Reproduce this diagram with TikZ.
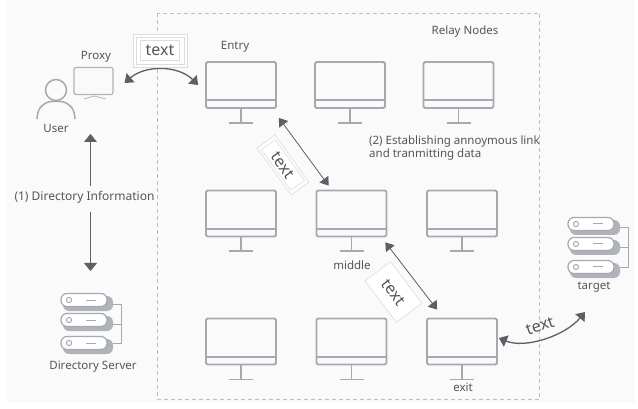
\documentclass[tikz,border=0pt]{standalone}
\usepackage{fontspec}
\setmainfont{Noto Sans}
\usetikzlibrary{arrows.meta}
\definecolor{bgc}{HTML}{FAFAFB}
\definecolor{iconc}{HTML}{A6A9B0}
\definecolor{icondk}{HTML}{B0B3B9}
\definecolor{dashc}{HTML}{BDBEC1}
\definecolor{arrowc}{HTML}{5E5F64}
\definecolor{txtc}{HTML}{55565A}
\definecolor{framec}{HTML}{DCDCDE}
\tikzset{
  monbox/.style={draw=iconc,line width=1.8pt,rounded corners=1.5pt,minimum width=70pt,minimum height=46pt,inner sep=0pt},
  monpart/.style={draw=iconc,line width=1.8pt},
  lbl/.style={text=txtc,font=\fontsize{11.5}{13}\selectfont,inner sep=0pt},
  bigtext/.style={text=txtc,font=\fontsize{16}{20}\selectfont,inner sep=0pt},
  link/.style={draw=arrowc,line width=.8pt,{Triangle[length=8pt,width=11pt]}-{Triangle[length=8pt,width=11pt]}},
  curved link/.style={draw=arrowc,line width=1.3pt,{Triangle[length=8pt,width=12pt]}-{Triangle[length=8pt,width=12pt]}},
  single link/.style={draw=arrowc,line width=.8pt,-{Triangle[length=8pt,width=13pt]}},
  framebox/.style={draw=framec,line width=.6pt,inner sep=0pt},
  pill/.style={draw=iconc,fill=white,line width=1.2pt,rounded corners=6pt,minimum width=46pt,minimum height=13pt,inner sep=0pt},
}
\newcommand{\monitor}[3]{%
  \node[monbox] (#1) at (#2,#3) {};
  \draw[monpart] ([yshift=8.5pt]#1.south west) -- ([yshift=8.5pt]#1.south east);
  \draw[monpart] (#1.south) -- ++(0,14) ([xshift=-12pt,yshift=-14pt]#1.south) -- ([xshift=12pt,yshift=-14pt]#1.south);
}
\newcommand{\serverpill}[3]{%
  \fill[icondk,rounded corners=6pt] (#2-21,#3-4) rectangle (#2+29,#3+11);
  \node[pill] (#1) at (#2,#3) {};
  \draw[iconc,line width=1pt] (#2-15,#3) circle (2.6);
  \draw[iconc,line width=1pt] (#2+2,#3) -- (#2+12,#3);
}
\newcommand{\serverstack}[3]{%
  \serverpill{#1a}{#2}{#3}
  \serverpill{#1b}{#2}{#3+20}
  \serverpill{#1c}{#2}{#3+43}
  \draw[iconc,line width=1pt] (#2+29,#3+4) -| (#2+37,#3+43.5) -- (#2+29,#3+43.5)
    (#2+29,#3+24) -- (#2+37,#3+24);
}
\begin{document}
\begin{tikzpicture}[x=1pt,y=-1pt]
\useasboundingbox (0,0) rectangle (638,409);
\fill[white] (0,0) rectangle (638,409);
\fill[bgc] (7,0) rectangle (635,403);
\draw[dashc,line width=.7pt,dash pattern=on 4pt off 3pt] (157.5,13.5) rectangle (539.5,399);

% monitors
\monitor{m11}{241}{85}
\monitor{m12}{350}{85}
\monitor{m13}{458.5}{85}
\monitor{m21}{241}{213.5}
\monitor{m22}{351.5}{213.5}
\monitor{m23}{462}{213.5}
\monitor{m31}{241}{341.5}
\monitor{m32}{351.5}{341.5}
\monitor{m33}{462}{341.5}

% user
\node[draw=iconc,line width=1.5pt,circle,minimum size=21pt,inner sep=0pt] (head) at (56,90) {};
\draw[iconc,line width=1.5pt] (37,119) .. controls (37,107) and (45,100.5) .. (head.south) .. controls (67,100.5) and (75,107) .. (75,119);
% proxy
\node[draw=icondk,line width=1.2pt,rounded corners=2pt,minimum width=39pt,minimum height=27pt,inner sep=0pt] (proxy) at (93.5,81) {};
\draw[icondk,line width=.8pt] (84,99) -- (94,96) -- (106,99);

% servers
\serverstack{dir}{84}{300}
\serverstack{tgt}{591}{224}

% labels
\node[lbl] (lproxy) at (96,56.5) {Proxy};
\node[lbl] (luser) at (56,128.5) {User};
\node[lbl] (lentry) at (235,47) {Entry};
\node[lbl] (lrelay) at (465,32) {Relay Nodes};
\node[lbl,anchor=west,align=left] (lestab) at (369,148.5) {(2) Establishing annoymous link\\and tranmitting data};
\node[lbl,font=\fontsize{12}{14}\selectfont] (dirinfo) at (84.5,197) {(1) Directory Information};
\node[lbl] (ldir) at (93,367) {Directory Server};
\node[lbl] (lmiddle) at (352,265) {middle};
\node[lbl] (lexit) at (463,387) {exit};
\node[lbl] (ltarget) at (594,287.5) {target};

% connectors
\coordinate (upend) at (90.5,134);
\coordinate (downend) at (90.5,271);
\draw[single link] ([shift={(6,-11)}]dirinfo.center) -- (upend);
\draw[single link] ([shift={(6,15)}]dirinfo.center) -- (downend);
\draw[curved link] ([shift={(11,2)}]proxy.east) .. controls (145,65) and (178,65) .. ([xshift=-7pt]m11.west);
\draw[link] ([shift={(2,9)}]m11.south east) -- ([shift={(13,-4)}]m22.north west);
\draw[link] ([shift={(-2,5)}]m22.south east) -- ([shift={(11,-8)}]m33.north west);
\draw[curved link] ([shift={(1,-3.5)}]m33.east) .. controls (525,349) and (565,336) .. ([shift={(-9,24.5)}]ltarget.center);

% text boxes
\node[framebox,fill=white,minimum width=54pt,minimum height=33pt] (t1o) at (160,50.5) {};
\node[framebox,minimum width=48pt,minimum height=27pt] (t1m) at (160,50.5) {};
\node[framebox,minimum width=39pt,minimum height=20pt] (t1i) at (160,50.5) {};
\node[bigtext] (t1) at (160,50) {text};

\node[framebox,fill=white,minimum width=58pt,minimum height=22pt,rotate=-54] (t2o) at (283,165) {};
\node[framebox,minimum width=50pt,minimum height=17pt,rotate=-54] (t2i) at (283,165) {};
\node[bigtext,rotate=-54] (t2) at (283,165) {text};

\node[framebox,fill=white,minimum width=52pt,minimum height=32pt,rotate=-53] (t3o) at (393.5,292) {};
\node[bigtext,rotate=-53] (t3) at (393.5,292.5) {text};

\node[bigtext,rotate=19] (t4) at (540,326) {text};
\end{tikzpicture}
\end{document}
